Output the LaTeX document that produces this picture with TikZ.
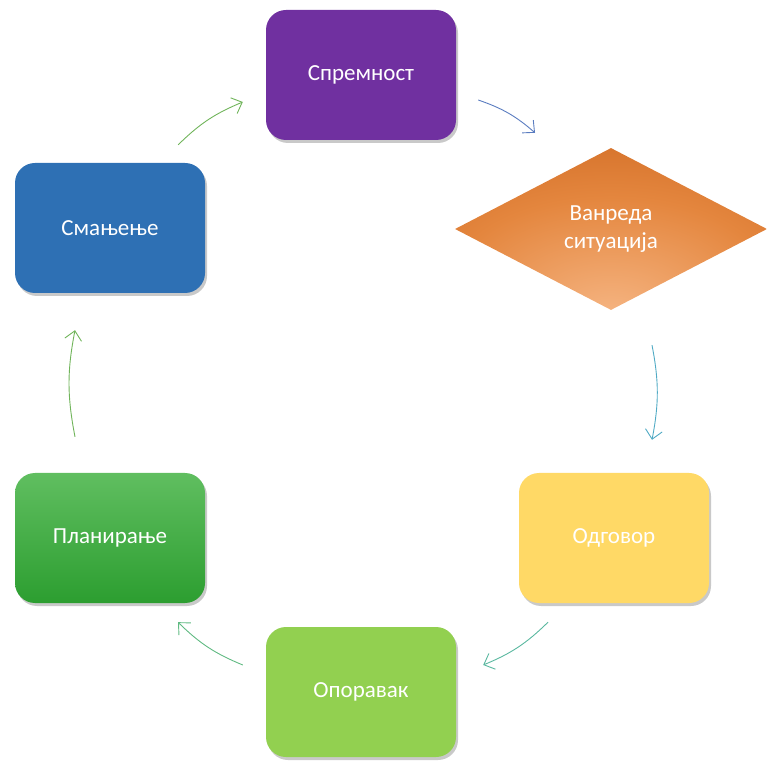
\documentclass[tikz,border=0pt]{standalone}
\usepackage{fontspec}
\setmainfont{Carlito}
\usetikzlibrary{shapes.geometric,shadows,arrows.meta}

\definecolor{ljubicasta}{RGB}{112,48,160}
\definecolor{plava}{RGB}{46,112,180}
\definecolor{zuta}{RGB}{255,217,102}
\definecolor{svzelena}{RGB}{146,208,80}
\definecolor{zelgore}{RGB}{96,190,96}
\definecolor{zeldole}{RGB}{44,158,48}
\definecolor{narTamna}{RGB}{192,86,16}
\definecolor{narSrednja}{RGB}{228,134,62}
\definecolor{narSvetla}{RGB}{246,182,132}
\definecolor{strZelena}{RGB}{112,180,90}
\definecolor{strPlava}{RGB}{90,124,192}
\definecolor{strTirkiz}{RGB}{80,170,196}
\definecolor{strMenta}{RGB}{90,184,160}
\definecolor{strZelTir}{RGB}{96,186,130}

\pgfdeclareradialshading{sjaj}{\pgfpoint{0bp}{-28bp}}{%
  color(0bp)=(narSvetla); color(25bp)=(narSrednja); color(55bp)=(narTamna)}

\begin{document}
\begin{tikzpicture}[x=1pt,y=1pt]
		\tikzstyle{faza} = [rounded corners=20pt,minimum width=190pt,minimum height=130pt,
			text=white,font=\fontsize{23}{28}\selectfont,align=center,
			drop shadow={shadow xshift=2pt,shadow yshift=-3pt,opacity=0.3,fill=black!70}]
		\tikzstyle{strelica} = [-{Straight Barb[length=9pt,width=17pt]},line width=0.9pt,bend left=11]
		
		\useasboundingbox (0,0) rectangle (767,760);
		
		\node[faza,fill=ljubicasta](sprem) at (361,685) {Спремност};
		\node[diamond,shading=sjaj,minimum width=312pt,minimum height=162pt,inner sep=0pt,
			text=white,font=\fontsize{23}{28}\selectfont,align=center](vanr) at (611,531) {Ванреда\\ситуација};
		\node[faza,fill=zuta](odgov) at (614,222) {Одговор};
		\node[faza,fill=svzelena](opor) at (361,68) {Опоравак};
		\node[faza,top color=zelgore,bottom color=zeldole](plan) at (110,222) {Планирање};
		\node[faza,fill=plava](smanj) at (110,532) {Смањење};
		
		\draw[strelica,strZelena] ([shift={(-27,18)}]smanj.north east) to ([shift={(-23,-27)}]sprem.west);
		\draw[strelica,strPlava] ([shift={(22,-25)}]sprem.east) to ([shift={(-76,15)}]vanr.north);
		\draw[strelica,strTirkiz] ([shift={(41,-35)}]vanr.south) to ([shift={(38,33)}]odgov.north);
		\draw[strelica,strMenta] ([shift={(-66,-19)}]odgov.south) to ([shift={(27,27)}]opor.east);
		\draw[strelica,strZelTir] ([shift={(-23,27)}]opor.west) to ([shift={(68,-19)}]plan.south);
		\draw[strelica,strZelena] ([shift={(-35,36)}]plan.north) to ([shift={(-35,-37)}]smanj.south);
		
\end{tikzpicture}
\end{document}
